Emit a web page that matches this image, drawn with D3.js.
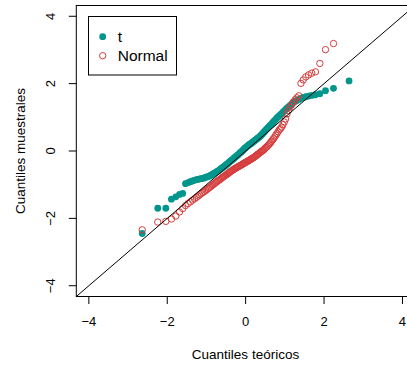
<!DOCTYPE html>
<html>
<head>
<meta charset="utf-8">
<script src="https://cdn.jsdelivr.net/npm/d3@7"></script>
<style>
  html, body { margin: 0; padding: 0; background: #fff; }
  svg { display: block; font-family: "Liberation Sans", Arial, sans-serif; }
</style>
</head>
<body>
<div id="chart"></div>
<script>
// Muestras ordenadas, n = 120 cada una
const tSample = [
  -2.45, -1.70, -1.70, -1.43, -1.36, -1.29, -1.26, -0.97, -0.94, -0.91,
  -0.89, -0.87, -0.85, -0.84, -0.83, -0.82, -0.81, -0.80, -0.78, -0.77,
  -0.76, -0.74, -0.72, -0.70, -0.68, -0.66, -0.64, -0.62, -0.60, -0.58,
  -0.56, -0.53, -0.51, -0.49, -0.47, -0.45, -0.43, -0.40, -0.38, -0.36,
  -0.33, -0.31, -0.29, -0.27, -0.25, -0.23, -0.20, -0.18, -0.16, -0.14,
  -0.12, -0.10, -0.07, -0.05, -0.03, -0.01, 0.02, 0.04, 0.07, 0.09,
  0.11, 0.13, 0.15, 0.17, 0.19, 0.21, 0.22, 0.24, 0.26, 0.28,
  0.30, 0.32, 0.34, 0.36, 0.38, 0.40, 0.42, 0.44, 0.47, 0.50,
  0.53, 0.56, 0.59, 0.62, 0.65, 0.68, 0.71, 0.74, 0.77, 0.80,
  0.84, 0.87, 0.91, 0.94, 0.98, 1.01, 1.04, 1.08, 1.11, 1.15,
  1.19, 1.23, 1.27, 1.31, 1.35, 1.39, 1.43, 1.47, 1.50, 1.53,
  1.56, 1.59, 1.61, 1.63, 1.65, 1.67, 1.70, 1.79, 1.86, 2.08
];

const normalSample = [
  -2.34, -2.11, -2.09, -2.02, -1.93, -1.81, -1.71, -1.62, -1.56, -1.51,
  -1.46, -1.42, -1.38, -1.34, -1.30, -1.26, -1.23, -1.20, -1.17, -1.14,
  -1.11, -1.08, -1.05, -1.02, -1.00, -0.97, -0.94, -0.92, -0.89, -0.87,
  -0.85, -0.83, -0.80, -0.78, -0.76, -0.74, -0.72, -0.70, -0.68, -0.66,
  -0.64, -0.62, -0.60, -0.58, -0.57, -0.55, -0.53, -0.52, -0.50, -0.49,
  -0.47, -0.46, -0.44, -0.43, -0.42, -0.40, -0.39, -0.37, -0.36, -0.34,
  -0.33, -0.32, -0.30, -0.29, -0.27, -0.26, -0.24, -0.23, -0.21, -0.20,
  -0.18, -0.16, -0.14, -0.12, -0.10, -0.08, -0.06, -0.04, -0.02, 0.00,
  0.02, 0.04, 0.07, 0.10, 0.12, 0.15, 0.18, 0.21, 0.25, 0.29,
  0.33, 0.37, 0.42, 0.47, 0.52, 0.57, 0.63, 0.66, 0.71, 0.78,
  0.86, 0.95, 1.10, 1.20, 1.30, 1.37, 1.45, 1.52, 1.58, 1.64,
  2.01, 2.11, 2.20, 2.26, 2.31, 2.35, 2.60, 3.01, 3.19, 4.50
];

const xTicks = [-4, -2, 0, 2, 4];
const yTicks = [-4, -2, 0, 2, 4];
const seriesNames = ['t', 'Normal'];
const seriesColors = ['#00968c', '#d63c3c'];

// Cuantil de la normal estándar (Acklam)
const qnorm = (p) => {
  const a = [-3.969683028665376e+01, 2.209460984245205e+02, -2.759285104469687e+02,
    1.383577518672690e+02, -3.066479806614716e+01, 2.506628277459239e+00];
  const b = [-5.447609879822406e+01, 1.615858368580409e+02, -1.556989798598866e+02,
    6.680131188771972e+01, -1.328068155288572e+01];
  const c = [-7.784894002430293e-03, -3.223964580411365e-01, -2.400758277161838e+00,
    -2.549732539343734e+00, 4.374664141464968e+00, 2.938163982698783e+00];
  const d = [7.784695709041462e-03, 3.224671290700398e-01, 2.445134137142996e+00,
    3.754408661907416e+00];
  const pl = 0.02425;
  if (p < pl) {
    const q = Math.sqrt(-2 * Math.log(p));
    return (((((c[0]*q+c[1])*q+c[2])*q+c[3])*q+c[4])*q+c[5]) /
      ((((d[0]*q+d[1])*q+d[2])*q+d[3])*q+1);
  }
  if (p > 1 - pl) return -qnorm(1 - p);
  const q = p - 0.5, r = q * q;
  return (((((a[0]*r+a[1])*r+a[2])*r+a[3])*r+a[4])*r+a[5])*q /
    (((((b[0]*r+b[1])*r+b[2])*r+b[3])*r+b[4])*r+1);
};

// Como qqnorm de R: ppoints(n) con a = 1/2
const qqPoints = (sample) => {
  const n = sample.length;
  return sample.map((v, i) => ({ x: qnorm((i + 1 - 0.5) / n), y: v }));
};

const width = 407, height = 365;
const plot = { left: 76.3, top: 5.5, right: 415, bottom: 296.5 };

const x = d3.scaleLinear().domain([-4.32, 4.32]).range([plot.left, plot.right]);
const y = d3.scaleLinear().domain([-4.32, 4.32]).range([plot.bottom, plot.top]);

const svg = d3.select('#chart').append('svg')
  .attr('width', width).attr('height', height);

svg.append('defs').append('clipPath').attr('id', 'clip')
  .append('rect')
  .attr('x', plot.left).attr('y', plot.top)
  .attr('width', plot.right - plot.left).attr('height', plot.bottom - plot.top);

const layer = svg.append('g').attr('clip-path', 'url(#clip)');

// t: puntos rellenos
layer.append('g').selectAll('circle')
  .data(qqPoints(tSample))
  .join('circle')
  .attr('cx', d => x(d.x)).attr('cy', d => y(d.y))
  .attr('r', 3.4)
  .attr('fill', seriesColors[0]);

// Normal: círculos abiertos
layer.append('g').selectAll('circle')
  .data(qqPoints(normalSample))
  .join('circle')
  .attr('cx', d => x(d.x)).attr('cy', d => y(d.y))
  .attr('r', 3.2)
  .attr('fill', 'none')
  .attr('stroke', seriesColors[1])
  .attr('stroke-width', 1);

// recta y = x
layer.append('line')
  .attr('x1', x(-4.32)).attr('y1', y(-4.32))
  .attr('x2', x(4.32)).attr('y2', y(4.32))
  .attr('stroke', '#000').attr('stroke-width', 1);

// caja
svg.append('rect')
  .attr('x', plot.left).attr('y', plot.top)
  .attr('width', plot.right - plot.left).attr('height', plot.bottom - plot.top)
  .attr('fill', 'none').attr('stroke', '#000').attr('stroke-width', 1);

// eje x
const fmt = d3.format('');
const xAxis = svg.append('g');
xAxis.selectAll('line').data(xTicks).join('line')
  .attr('x1', d => x(d)).attr('x2', d => x(d))
  .attr('y1', plot.bottom).attr('y2', plot.bottom + 7.5)
  .attr('stroke', '#000');
xAxis.selectAll('text').data(xTicks).join('text')
  .attr('x', d => x(d)).attr('y', 326)
  .attr('text-anchor', 'middle')
  .attr('font-size', 13)
  .text(d => fmt(d));

// eje y
const yAxis = svg.append('g');
yAxis.selectAll('line').data(yTicks).join('line')
  .attr('x1', plot.left - 7.5).attr('x2', plot.left)
  .attr('y1', d => y(d)).attr('y2', d => y(d))
  .attr('stroke', '#000');
yAxis.selectAll('text').data(yTicks).join('text')
  .attr('transform', d => `translate(54.7,${y(d)}) rotate(-90)`)
  .attr('text-anchor', 'middle')
  .attr('font-size', 13)
  .text(d => fmt(d));

// títulos de ejes
svg.append('text')
  .attr('x', 245.5).attr('y', 359)
  .attr('text-anchor', 'middle')
  .attr('font-size', 13.5)
  .text('Cuantiles teóricos');

svg.append('text')
  .attr('transform', `translate(25,${y(0)}) rotate(-90)`)
  .attr('text-anchor', 'middle')
  .attr('font-size', 13.5)
  .text('Cuantiles muestrales');

// leyenda
const legend = svg.append('g');
legend.append('rect')
  .attr('x', 88.5).attr('y', 16.5).attr('width', 88).attr('height', 58.5)
  .attr('fill', '#fff').attr('stroke', '#000');

const items = legend.selectAll('g.item').data(seriesNames).join('g')
  .attr('class', 'item')
  .attr('transform', (d, i) => `translate(102.7,${36.7 + i * 19})`);

items.append('circle')
  .attr('r', (d, i) => i === 0 ? 3.4 : 3.2)
  .attr('fill', (d, i) => i === 0 ? seriesColors[0] : 'none')
  .attr('stroke', (d, i) => i === 0 ? 'none' : seriesColors[1]);

items.append('text')
  .attr('x', 15).attr('y', 5.5)
  .attr('font-size', 15.5)
  .text(d => d);
</script>
</body>
</html>
